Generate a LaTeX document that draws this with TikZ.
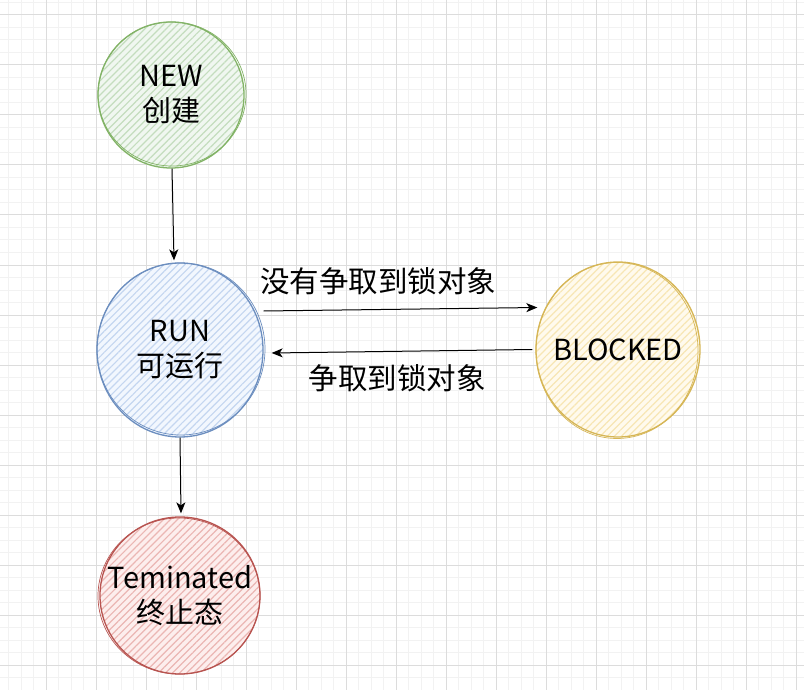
\documentclass[tikz,border=0pt]{standalone}
\usepackage{fontspec}
\setmainfont{Noto Sans CJK SC}
\usetikzlibrary{arrows.meta,patterns.meta,shapes.geometric}
\definecolor{gstroke}{HTML}{82B366}\definecolor{gfill}{HTML}{D5E8D4}
\definecolor{bstroke}{HTML}{6C8EBF}\definecolor{bfill}{HTML}{DAE8FC}
\definecolor{ystroke}{HTML}{D6B656}\definecolor{yfill}{HTML}{FFF2CC}
\definecolor{rstroke}{HTML}{B85450}\definecolor{rfill}{HTML}{F8CECC}
\definecolor{gridminor}{HTML}{F2F2F2}\definecolor{gridmajor}{HTML}{DCDCDC}
\tikzset{
  state/.style n args={2}{ellipse, inner sep=-30pt, line width=1.3pt, draw=#1,
    preaction={fill=#2!35!white},
    pattern={Lines[angle=45,distance=5pt,line width=1.2pt]}, pattern color=#2!80!#1,
    align=center, font=\fontsize{29}{35}\selectfont},
  sketch/.style={line width=0.7pt, draw=#1},
  arr/.style={line width=1pt, -{Stealth[length=11pt,width=9pt,inset=3pt]}},
  lbl/.style={font=\fontsize{29.5}{35}\selectfont, inner sep=0pt},
  minorline/.style={gridminor, line width=1pt},
  majorline/.style={gridmajor, line width=1pt},
}
\begin{document}
\begin{tikzpicture}[x=1pt,y=-1pt]
\useasboundingbox (0,0) rectangle (804,690);
\fill[white] (0,0) rectangle (804,690);
\begin{scope}
\clip (0,0) rectangle (804,690);
\foreach \i in {0,...,65} \draw[minorline] ({-4+12.5*\i},0) -- ({-4+12.5*\i},690);
\foreach \i in {0,...,56} \draw[minorline] (0,{2.5+12.5*\i}) -- (804,{2.5+12.5*\i});
\foreach \i in {0,...,16} \draw[majorline] ({-4+50*\i},0) -- ({-4+50*\i},690);
\foreach \i in {0,...,14} \draw[majorline] (0,{15+50*\i}) -- (804,{15+50*\i});
\end{scope}

\node[state={gstroke}{gfill}, minimum width=146pt, minimum height=146pt] (new) at (171,95) {NEW\\创建};
\node[state={bstroke}{bfill}, minimum width=166pt, minimum height=174pt] (run) at (180,350) {RUN\\可运行};
\node[state={ystroke}{yfill}, minimum width=164pt, minimum height=175pt] (blocked) at (618,349.5) {BLOCKED};
\node[state={rstroke}{rfill}, minimum width=160pt, minimum height=157pt] (term) at (180,595.5) {Teminated\\终止态};

\draw[sketch=gstroke] (172,94) ellipse [x radius=74pt, y radius=72pt];
\draw[sketch=bstroke] (181,349) ellipse [x radius=84pt, y radius=86pt];
\draw[sketch=ystroke] (617,350.5) ellipse [x radius=81pt, y radius=88pt];
\draw[sketch=rstroke] (179,596) ellipse [x radius=81pt, y radius=78pt];

\draw[arr] ([xshift=1pt]new.south) -- ([xshift=-6pt,yshift=2pt]run.north);
\draw[arr] (run.south) -- ([xshift=1pt,yshift=3pt]term.north);
\draw[arr] ([yshift=39pt]run.east) -- ([xshift=2pt,yshift=42pt]blocked.west);
\draw[arr] ([xshift=-3pt]blocked.west) -- ([xshift=8pt,yshift=-3pt]run.east);

\node[lbl] (l1) at (378,281) {没有争取到锁对象};
\node[lbl] (l2) at (397,378) {争取到锁对象};
\end{tikzpicture}
\end{document}
